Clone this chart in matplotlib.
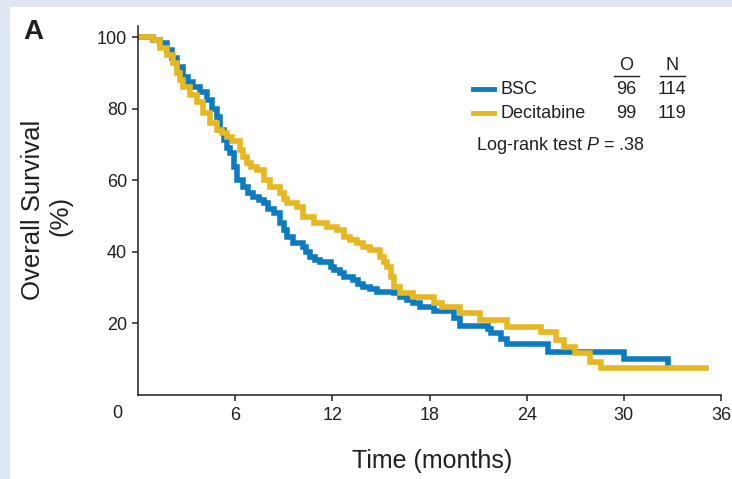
import matplotlib
matplotlib.use("Agg")
import matplotlib.pyplot as plt
from matplotlib.patches import Rectangle

plt.rcParams['font.family'] = ['Liberation Sans', 'DejaVu Sans']
plt.rcParams['mathtext.fontset'] = 'custom'
plt.rcParams['mathtext.it'] = 'Liberation Sans:italic'
plt.rcParams['mathtext.rm'] = 'Liberation Sans'

# Kaplan-Meier curves (months, % surviving after each step)
bsc_t = [0, 0.95, 1.36, 1.77, 2.08, 2.39, 2.8, 3.1, 3.42, 3.83,
         4.25, 4.6, 4.87, 5.07, 5.28, 5.49, 5.69, 5.9, 6.1, 6.5,
         6.8, 7.13, 7.45, 7.75, 8.05, 8.37, 8.78, 9.0, 9.2, 9.6,
         10.2, 10.4, 10.6, 10.9, 11.25, 11.9, 12.1, 12.5, 12.7, 13.3,
         13.6, 13.9, 14.3, 14.75, 15.8, 16.2, 16.6, 17.0, 17.4, 18.26,
         19.5, 19.9, 21.6, 21.8, 22.4, 22.8, 25.3, 30.0, 32.7]
bsc_s = [100, 99.2, 98.2, 96.4, 94.0, 91.7, 88.9, 87.5, 86.1, 84.7,
         82.4, 80.0, 77.7, 74.0, 71.2, 69.0, 67.5, 63.7, 60.0, 58.1,
         56.5, 55.3, 54.4, 53.5, 52.0, 50.7, 47.9, 46.0, 44.1, 42.3,
         41.3, 39.8, 38.5, 37.6, 37.0, 35.7, 34.8, 33.9, 33.0, 32.0,
         31.0, 30.2, 29.5, 28.8, 28.3, 27.3, 26.4, 25.5, 24.6, 23.3,
         21.5, 19.2, 18.2, 17.2, 15.5, 14.1, 11.9, 9.9, 8.2]

dec_t = [0, 0.95, 1.36, 1.77, 2.18, 2.39, 2.6, 2.8, 3.2, 3.63,
         4.04, 4.45, 4.87, 5.2, 5.49, 5.8, 6.3, 6.5, 6.72, 7.0,
         7.34, 7.75, 8.16, 8.78, 9.0, 9.2, 9.8, 10.2, 10.84, 11.67,
         12.3, 12.7, 13.1, 13.5, 13.9, 14.35, 14.97, 15.2, 15.4, 15.6,
         15.8, 16.2, 17.0, 18.26, 18.8, 19.9, 21.1, 22.8, 24.9, 25.8,
         26.3, 27.0, 27.9, 28.6, 35.1]
dec_s = [100, 99.2, 96.8, 95.0, 92.6, 89.8, 88.0, 86.1, 83.8, 81.9,
         78.7, 75.9, 74.0, 73.1, 72.1, 70.8, 68.4, 66.5, 64.7, 63.7,
         62.8, 60.0, 58.1, 56.3, 54.8, 53.5, 52.5, 49.7, 47.9, 46.9,
         46.0, 44.1, 43.2, 42.3, 41.3, 40.4, 38.5, 37.0, 35.7, 33.0,
         30.2, 28.3, 27.4, 25.6, 24.6, 22.7, 20.8, 19.0, 17.5, 15.2,
         13.2, 11.6, 9.1, 7.4, 7.4]

groups = ['BSC', 'Decitabine']
observed = [96, 99]
numbers = [114, 119]
x_ticks = [6, 12, 18, 24, 30, 36]
y_ticks = [20, 40, 60, 80, 100]

blue = '#0b7cc2'
yellow = '#e8b720'
ink = '#231f20'

W, H = 732, 479
fig = plt.figure(figsize=(W / 100, H / 100), dpi=100)
fig.patch.set_facecolor('#dde6f1')
fig.patches.append(Rectangle((10 / W, 0), 1, 1 - 7 / H, transform=fig.transFigure,
                             facecolor='white', edgecolor='none', zorder=-5))


def px(x, y):
    return x / W, 1 - y / H


ax = fig.add_axes([138 / W, 84.5 / H, (721 - 138) / W, 368.2 / H])
ax.set_facecolor('none')
ax.step(bsc_t, bsc_s, where='post', color=blue, lw=4.0, solid_joinstyle='miter')
ax.step(dec_t, dec_s, where='post', color=yellow, lw=4.0, solid_joinstyle='miter')

ax.set_xlim(0, 36)
ax.set_ylim(0, 103)
ax.set_xticks(x_ticks)
ax.set_yticks(y_ticks)
ax.tick_params(direction='out', length=4, width=1.1, color=ink,
               labelsize=13, labelcolor=ink)
ax.tick_params(axis='x', pad=5)
ax.tick_params(axis='y', pad=4)
for side in ['top', 'right']:
    ax.spines[side].set_visible(False)
for side in ['left', 'bottom']:
    ax.spines[side].set_color(ink)
    ax.spines[side].set_linewidth(1.1)

fig.text(*px(117, 413), '0', fontsize=13, color=ink, ha='center', va='center')
fig.text(*px(432, 461), 'Time (months)', fontsize=18, color=ink, ha='center', va='center')
fig.text(*px(33, 210), 'Overall Survival', fontsize=18.5, color=ink,
         rotation=90, ha='center', va='center')
fig.text(*px(60, 216), '(%)', fontsize=18.5, color=ink,
         rotation=90, ha='center', va='center')
fig.text(*px(23, 32), 'A', fontsize=20, fontweight='bold', color=ink,
         ha='left', va='center')

# legend with O / N columns
fs = 13
fig.text(*px(626, 66), 'O', fontsize=fs, color=ink, ha='center', va='center')
fig.text(*px(672, 66), 'N', fontsize=fs, color=ink, ha='center', va='center')
fig.add_artist(plt.Line2D([614 / W, 639 / W], [1 - 76 / H] * 2, color=ink, lw=1))
fig.add_artist(plt.Line2D([660 / W, 685 / W], [1 - 76 / H] * 2, color=ink, lw=1))
for i, (g, c) in enumerate(zip(groups, [blue, yellow])):
    y = 89 + i * 24
    fig.add_artist(plt.Line2D([473 / W, 494 / W], [1 - y / H] * 2, color=c, lw=3.5))
    fig.text(*px(501, y), g, fontsize=fs, color=ink, ha='left', va='center')
    fig.text(*px(626, y), str(observed[i]), fontsize=fs, color=ink, ha='center', va='center')
    fig.text(*px(672, y), str(numbers[i]), fontsize=fs, color=ink, ha='center', va='center')
fig.text(*px(476, 145), 'Log-rank test $\\it{P}$ = .38', fontsize=fs, color=ink,
         ha='left', va='center')

fig.savefig('out.png', dpi=100, facecolor=fig.get_facecolor())
